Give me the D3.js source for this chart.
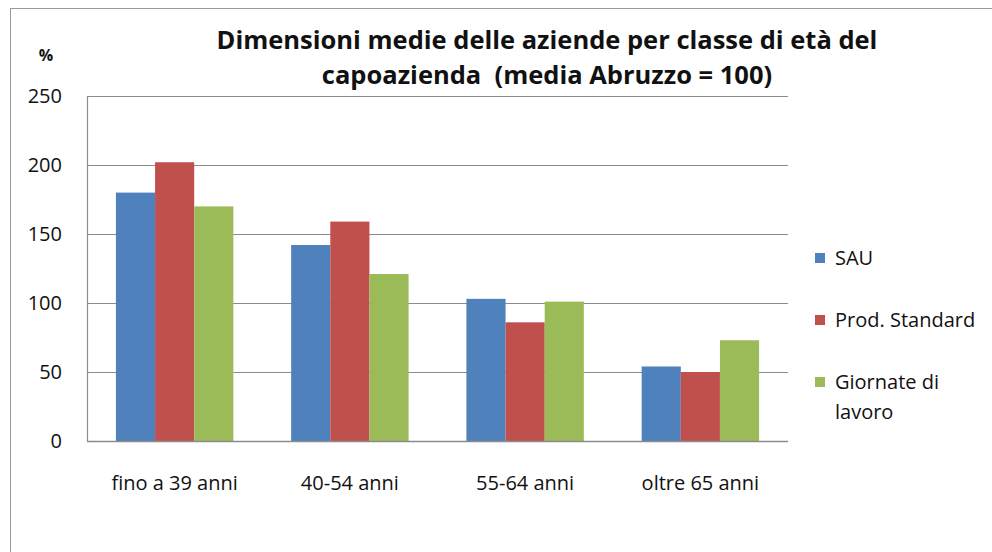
<!DOCTYPE html>
<html>
<head>
<meta charset="utf-8">
<script src="https://cdn.jsdelivr.net/npm/d3@7"></script>
<style>
  body { margin: 0; background: #fff; }
  svg text { font-family: "Open Sans", sans-serif; fill: #111; }
</style>
</head>
<body>
<div id="chart"></div>
<script>
  const width = 992,
      height = 552;

  const categories = ["fino a 39 anni", "40-54 anni", "55-64 anni", "oltre 65 anni"];
  const seriesNames = ["SAU", "Prod. Standard", "Giornate di lavoro"];
  const sau = [180, 142, 103, 54];
  const prodStandard = [202, 159, 86, 50];
  const giornate = [170, 121, 101, 73];
  const yTicks = [0, 50, 100, 150, 200, 250];
  const colors = ["#4f81bd", "#c0504d", "#9bbb59"];

  const seriesValues = [sau, prodStandard, giornate];

  const margin = { top: 96, right: 204, bottom: 111, left: 87 };
  const plotW = width - margin.left - margin.right,
      plotH = height - margin.top - margin.bottom;

  const svg = d3.select("#chart").append("svg")
      .attr("width", width)
      .attr("height", height);

  // outer chart frame
  svg.append("rect")
    .attr("x", 10.5).attr("y", 8.5)
    .attr("width", 990).attr("height", 600)
    .attr("fill", "none")
    .attr("stroke", "#9a9a9a");

  const x0 = d3.scaleBand()
    .domain(categories)
    .range([0, plotW])
    .paddingInner(0.33)
    .paddingOuter(0.165);

  const x1 = d3.scaleBand()
    .domain(d3.range(seriesNames.length))
    .range([0, x0.bandwidth()]);

  const y = d3.scaleLinear()
    .domain([0, 250])
    .range([plotH, 0]);

  const g = svg.append("g")
    .attr("transform", `translate(${margin.left},${margin.top})`);

  // gridlines
  g.selectAll(".grid")
    .data(yTicks)
    .enter().append("line")
    .attr("class", "grid")
    .attr("x1", 0)
    .attr("x2", plotW)
    .attr("y1", d => Math.round(y(d)) + 0.5)
    .attr("y2", d => Math.round(y(d)) + 0.5)
    .attr("stroke", "#8c8c8c")
    .attr("stroke-width", 1.2);

  // left axis line
  g.append("line")
    .attr("x1", 0.5).attr("x2", 0.5)
    .attr("y1", 0).attr("y2", plotH)
    .attr("stroke", "#8c8c8c")
    .attr("stroke-width", 1.2);

  // bars
  const groups = g.selectAll(".cat")
    .data(categories)
    .enter().append("g")
    .attr("class", "cat")
    .attr("transform", d => `translate(${x0(d)},0)`);

  groups.selectAll("rect")
    .data((d, i) => seriesValues.map((vals, s) => ({ s: s, v: vals[i] })))
    .enter().append("rect")
    .attr("x", d => x1(d.s))
    .attr("width", x1.bandwidth())
    .attr("y", d => y(d.v))
    .attr("height", d => plotH - y(d.v))
    .attr("fill", d => colors[d.s]);

  // bottom axis line (drawn over bars)
  g.append("line")
    .attr("x1", 0).attr("x2", plotW)
    .attr("y1", plotH + 0.5).attr("y2", plotH + 0.5)
    .attr("stroke", "#8c8c8c")
    .attr("stroke-width", 1.5);

  // y axis labels
  const yAxis = d3.axisLeft(y).tickValues(yTicks).tickSize(0).tickPadding(25);
  const yAxisG = g.append("g").call(yAxis);
  yAxisG.select(".domain").remove();
  yAxisG.selectAll("text")
    .attr("font-size", 20)
    .style("font-family", '"Open Sans", sans-serif')
    .attr("fill", "#111");

  // x axis labels
  const xAxis = d3.axisBottom(x0).tickSize(0).tickPadding(35);
  const xAxisG = g.append("g")
    .attr("transform", `translate(0,${plotH})`)
    .call(xAxis);
  xAxisG.select(".domain").remove();
  xAxisG.selectAll("text")
    .attr("font-size", 20)
    .style("font-family", '"Open Sans", sans-serif')
    .attr("fill", "#111");

  // title
  const title = svg.append("text")
    .attr("text-anchor", "middle")
    .attr("font-size", 25.5)
    .attr("font-weight", "bold")
    .style("white-space", "pre");
  title.append("tspan").attr("x", 547).attr("y", 49)
    .text("Dimensioni medie delle aziende per classe di età del");
  title.append("tspan").attr("x", 547).attr("y", 84)
    .text("capoazienda  (media Abruzzo = 100)");

  svg.append("text")
    .attr("x", 46).attr("y", 61)
    .attr("text-anchor", "middle")
    .attr("font-size", 16)
    .attr("font-weight", "bold")
    .text("%");

  // legend
  const legendY = [258, 320, 382];
  const legend = svg.selectAll(".legend")
    .data(seriesNames)
    .enter().append("g")
    .attr("class", "legend")
    .attr("transform", (d, i) => `translate(815,${legendY[i]})`);

  legend.append("rect")
    .attr("x", 0).attr("y", -5)
    .attr("width", 10).attr("height", 10)
    .attr("fill", (d, i) => colors[i]);

  legend.append("text")
    .attr("x", 20)
    .attr("y", 7)
    .attr("font-size", 20)
    .each(function (d) {
      const t = d3.select(this);
      if (d === "Giornate di lavoro") {
        t.append("tspan").attr("x", 20).text("Giornate di");
        t.append("tspan").attr("x", 20).attr("dy", 30).text("lavoro");
      } else {
        t.text(d);
      }
    });
</script>
</body>
</html>
